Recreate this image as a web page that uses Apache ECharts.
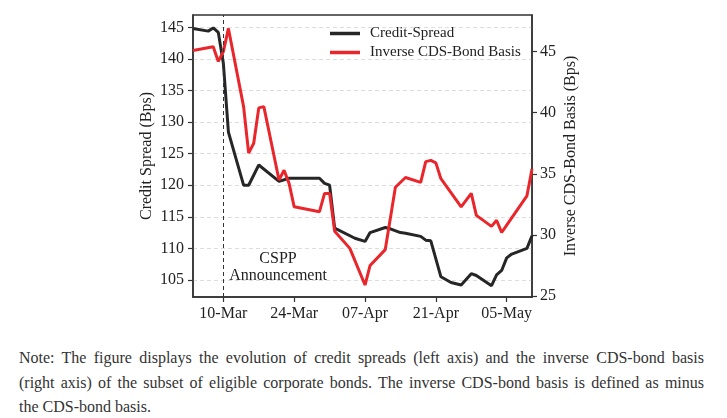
<!DOCTYPE html>
<html>
<head>
<meta charset="utf-8">
<script src="https://cdn.jsdelivr.net/npm/echarts@6/dist/echarts.min.js"></script>
<style>
  body { margin: 0; background: #fff; }
  #chart { position: absolute; left: 0; top: 0; width: 727px; height: 330px; }
  #note { position: absolute; left: 19px; top: 346px; width: 685px;
          font-family: 'Liberation Serif', serif; font-size: 16px; color: #333; line-height: 24.5px; }
  #note div { white-space: nowrap; }
  #note .j { text-align: justify; text-align-last: justify; }
</style>
</head>
<body>
<div id="chart"></div>
<div id="note">
  <div class="j">Note: The figure displays the evolution of credit spreads (left axis) and the inverse CDS-bond basis</div>
  <div class="j">(right axis) of the subset of eligible corporate bonds. The inverse CDS-bond basis is defined as minus</div>
  <div>the CDS-bond basis.</div>
</div>
<script>
// every calendar day from 04-Mar to 10-May (2020)
const startDay = new Date(2020, 2, 4)
const dayCount = 68
const monthNames = ['Jan', 'Feb', 'Mar', 'Apr', 'May']
const days = []
for (let i = 0; i < dayCount; i++) {
  const d = new Date(startDay.getTime() + i * 86400000)
  days.push(String(d.getDate()).padStart(2, '0') + '-' + monthNames[d.getMonth()])
}
const xTickLabels = ['10-Mar', '24-Mar', '07-Apr', '21-Apr', '05-May']

// left axis: credit spread (bps)
const spreadDays = ['04-Mar', '07-Mar', '08-Mar', '09-Mar', '10-Mar', '11-Mar', '14-Mar', '15-Mar', '17-Mar',
  '21-Mar', '23-Mar', '29-Mar', '30-Mar', '31-Mar', '01-Apr', '05-Apr', '07-Apr', '08-Apr', '11-Apr', '12-Apr',
  '14-Apr', '15-Apr', '18-Apr', '19-Apr', '20-Apr', '22-Apr', '24-Apr', '26-Apr', '28-Apr', '29-Apr',
  '02-May', '03-May', '04-May', '05-May', '06-May', '09-May', '10-May']
const spreadVals = [144.8, 144.4, 144.9, 144.2, 139.3, 128.4, 120.0, 120.0, 123.2,
  120.6, 121.1, 121.1, 120.3, 120.0, 113.2, 111.6, 111.1, 112.5, 113.3, 113.1,
  112.5, 112.4, 111.9, 111.3, 111.2, 105.5, 104.6, 104.2, 106.0, 105.7,
  104.1, 105.8, 106.5, 108.5, 109.1, 110.0, 112.0]

// right axis: inverse CDS-bond basis (bps)
const basisDays = ['04-Mar', '08-Mar', '09-Mar', '10-Mar', '11-Mar', '14-Mar', '15-Mar', '16-Mar', '17-Mar',
  '18-Mar', '21-Mar', '22-Mar', '23-Mar', '24-Mar', '29-Mar', '30-Mar', '31-Mar', '01-Apr', '04-Apr', '07-Apr',
  '08-Apr', '11-Apr', '13-Apr', '15-Apr', '18-Apr', '19-Apr', '20-Apr', '21-Apr', '22-Apr', '26-Apr',
  '28-Apr', '29-Apr', '02-May', '03-May', '04-May', '05-May', '09-May', '10-May']
const basisVals = [45.1, 45.4, 44.2, 45.0, 46.9, 40.5, 36.7, 37.5, 40.4,
  40.5, 34.5, 35.3, 34.2, 32.3, 31.9, 33.4, 33.4, 30.3, 28.9, 25.9,
  27.5, 28.8, 33.9, 34.7, 34.3, 36.0, 36.1, 35.9, 34.6, 32.3,
  33.4, 31.6, 30.7, 31.2, 30.2, 30.8, 33.2, 35.4]

const leftTicks = [105, 110, 115, 120, 125, 130, 135, 140, 145]
const rightTicks = [25, 30, 35, 40, 45]

const font = 'Liberation Serif'
const textColor = '#222'
const axisColor = '#333'
const showX = (idx, val) => xTickLabels.indexOf(val) >= 0

const chart = echarts.init(document.getElementById('chart'))
chart.setOption({
  animation: false,
  textStyle: { fontFamily: font, color: textColor },
  grid: {
    left: 193, right: 195, top: 15, bottom: 33,
    show: true, borderColor: axisColor, borderWidth: 1.5, backgroundColor: 'transparent',
  },
  legend: {
    orient: 'vertical',
    left: 330,
    top: 26,
    padding: 0,
    icon: 'rect',
    itemWidth: 30,
    itemHeight: 3.5,
    itemGap: 4,
    textStyle: { fontFamily: font, fontSize: 15, color: textColor, padding: [0, 0, 0, 5] },
    data: ['Credit-Spread', 'Inverse CDS-Bond Basis'],
  },
  xAxis: {
    type: 'category',
    data: days,
    boundaryGap: false,
    axisLine: { lineStyle: { color: axisColor, width: 1.5 } },
    axisTick: { interval: showX, length: 5, lineStyle: { color: axisColor, width: 1.2 } },
    axisLabel: { interval: showX, margin: 9, fontFamily: font, fontSize: 16, color: textColor },
    splitLine: { show: false },
  },
  yAxis: [
    {
      type: 'value',
      position: 'left',
      min: 102.3,
      max: 146.95,
      name: 'Credit Spread (Bps)',
      nameLocation: 'middle',
      nameGap: 38,
      nameTextStyle: { fontFamily: font, fontSize: 16, color: textColor },
      axisLine: { show: true, lineStyle: { color: axisColor, width: 1.5 } },
      axisTick: { show: true, length: 5, customValues: leftTicks, lineStyle: { color: axisColor, width: 1.2 } },
      axisLabel: { customValues: leftTicks, margin: 9, fontFamily: font, fontSize: 16, color: textColor },
      splitLine: { show: true, lineStyle: { color: '#d4d4d4', type: [4, 3], width: 0.8 } },
    },
    {
      type: 'value',
      position: 'right',
      min: 24.92,
      max: 48.0,
      name: 'Inverse CDS-Bond Basis (Bps)',
      nameLocation: 'middle',
      nameGap: 31,
      nameTextStyle: { fontFamily: font, fontSize: 16, color: textColor },
      axisLine: { show: true, lineStyle: { color: axisColor, width: 1.5 } },
      axisTick: { show: true, length: 5, customValues: rightTicks, lineStyle: { color: axisColor, width: 1.2 } },
      axisLabel: { customValues: rightTicks, margin: 8, fontFamily: font, fontSize: 16, color: textColor },
      splitLine: { show: false },
    },
  ],
  series: [
    {
      name: 'Credit-Spread',
      type: 'line',
      yAxisIndex: 0,
      data: spreadDays.map((d, i) => [d, spreadVals[i]]),
      symbol: 'none',
      color: '#262626',
      lineStyle: { width: 3, color: '#262626' },
      markLine: {
        silent: true,
        symbol: ['none', 'none'],
        label: { show: false },
        lineStyle: { type: [4, 3], color: '#333', width: 1 },
        data: [{ xAxis: '10-Mar' }],
      },
    },
    {
      name: 'Inverse CDS-Bond Basis',
      type: 'line',
      yAxisIndex: 1,
      data: basisDays.map((d, i) => [d, basisVals[i]]),
      symbol: 'none',
      color: '#e8262b',
      lineStyle: { width: 3, color: '#e8262b' },
    },
  ],
  graphic: [
    {
      type: 'text',
      x: 278,
      y: 250,
      style: {
        text: 'CSPP\nAnnouncement',
        align: 'center',
        verticalAlign: 'top',
        lineHeight: 17,
        font: '16px "Liberation Serif"',
        fill: textColor,
      },
    },
  ],
})
</script>
</body>
</html>
